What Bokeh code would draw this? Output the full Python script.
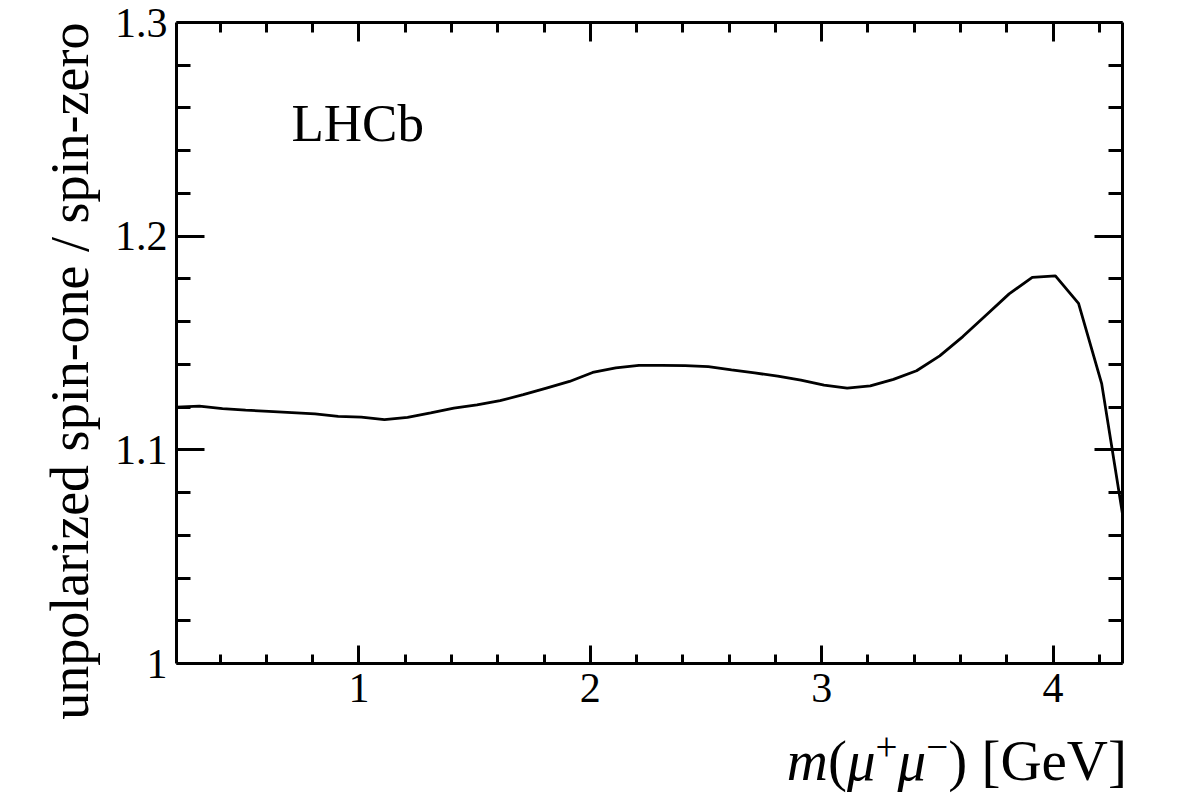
from bokeh.plotting import figure
from bokeh.models import Range1d, FixedTicker, LinearAxis, Label, Title, Div
from bokeh.layouts import column
from bokeh.embed import file_html
from bokeh.resources import INLINE

# Ratio of unpolarized spin-one to spin-zero versus dimuon mass
mass = [0.2113, 0.31, 0.41, 0.51, 0.61, 0.71, 0.81, 0.91, 1.01, 1.11,
        1.21, 1.31, 1.41, 1.51, 1.61, 1.71, 1.81, 1.91, 2.01, 2.11,
        2.21, 2.31, 2.41, 2.51, 2.61, 2.71, 2.81, 2.91, 3.01, 3.11,
        3.21, 3.31, 3.41, 3.51, 3.61, 3.71, 3.81, 3.91, 4.01, 4.11,
        4.21, 4.30]
ratio = [1.1200, 1.1205, 1.1193, 1.1186, 1.1180, 1.1174, 1.1168, 1.1157, 1.1153, 1.1141,
         1.1152, 1.1173, 1.1195, 1.1210, 1.1230, 1.1258, 1.1289, 1.1320, 1.1362, 1.1384,
         1.1395, 1.1395, 1.1394, 1.1389, 1.1374, 1.1360, 1.1345, 1.1326, 1.1303, 1.1289,
         1.1299, 1.1330, 1.1370, 1.1440, 1.1530, 1.1630, 1.1730, 1.1807, 1.1814, 1.1685,
         1.1310, 1.0700]

x_major = [1, 2, 3, 4]
x_minor = [0.4, 0.6, 0.8, 1.2, 1.4, 1.6, 1.8, 2.2, 2.4, 2.6, 2.8,
           3.2, 3.4, 3.6, 3.8, 4.2]
y_major = [1.0, 1.1, 1.2, 1.3]
y_minor = [1.02, 1.04, 1.06, 1.08, 1.12, 1.14, 1.16, 1.18,
           1.22, 1.24, 1.26, 1.28]
y_tick_text = {1.0: "1", 1.1: "1.1", 1.2: "1.2", 1.3: "1.3"}
x_tick_text = {1: "1", 2: "2", 3: "3", 4: "4"}

FONT = "Liberation Serif"

p = figure(width=1182, height=730, output_backend="svg", toolbar_location=None,
           x_range=Range1d(0.2113, 4.3), y_range=Range1d(1.0, 1.3),
           x_axis_location=None, y_axis_location=None,
           min_border_left=176, min_border_right=60,
           min_border_top=22, min_border_bottom=67)
p.grid.visible = False
p.outline_line_color = None
p.background_fill_color = "white"
p.border_fill_color = "white"


def style_axis(ax, major_in, minor_in, labels):
    ax.axis_line_width = 3
    ax.axis_line_color = "black"
    ax.major_tick_line_width = 3
    ax.minor_tick_line_width = 3
    ax.major_tick_in = major_in
    ax.major_tick_out = 0
    ax.minor_tick_in = minor_in
    ax.minor_tick_out = 0
    ax.major_label_text_font = FONT
    ax.major_label_text_font_size = "42px"
    ax.major_label_text_color = "black"
    ax.major_label_overrides = labels


xb = LinearAxis(ticker=FixedTicker(ticks=x_major, minor_ticks=x_minor))
style_axis(xb, 18, 9, x_tick_text)
xb.major_label_standoff = 10
p.add_layout(xb, "below")

xt = LinearAxis(ticker=FixedTicker(ticks=x_major, minor_ticks=x_minor))
style_axis(xt, 19, 10, {k: "" for k in x_major})
xt.major_label_text_font_size = "0px"
p.add_layout(xt, "above")

yl = LinearAxis(ticker=FixedTicker(ticks=y_major, minor_ticks=y_minor))
style_axis(yl, 28, 14, y_tick_text)
yl.major_label_standoff = 9
p.add_layout(yl, "left")

yr = LinearAxis(ticker=FixedTicker(ticks=y_major, minor_ticks=y_minor))
style_axis(yr, 28, 14, {k: "" for k in y_major})
yr.major_label_text_font_size = "0px"
p.add_layout(yr, "right")

# y-axis title, aligned to the top of the frame
p.add_layout(Title(text="unpolarized spin-one / spin-zero", align="right",
                   text_font=FONT, text_font_size="54px", text_font_style="normal",
                   text_color="black", standoff=24), "left")

p.line(mass, ratio, line_color="black", line_width=2.8)

# experiment tag
p.add_layout(Label(x=0.708, y=1.2394, text="LHCb", text_font=FONT,
                   text_font_size="53px", text_color="black"))

# x-axis title with italic symbols, right-aligned under the frame
x_title = Div(
    width=1182, height=70,
    text=(
        "<div style=\"font-family:'Liberation Serif'; font-size:57px; line-height:57px; "
        "text-align:right; width:1122px; margin-top:-17px; color:black; white-space:nowrap;\">"
        "<i>m</i>(<i>&mu;</i><span style=\"font-size:39px; vertical-align:20px;\">+</span>"
        "<i>&mu;</i><span style=\"font-size:39px; vertical-align:20px;\">&minus;</span>) [GeV]"
        "</div>"
    ),
)

layout = column(p, x_title, spacing=0)
open("out.html", "w").write(file_html(layout, INLINE))
